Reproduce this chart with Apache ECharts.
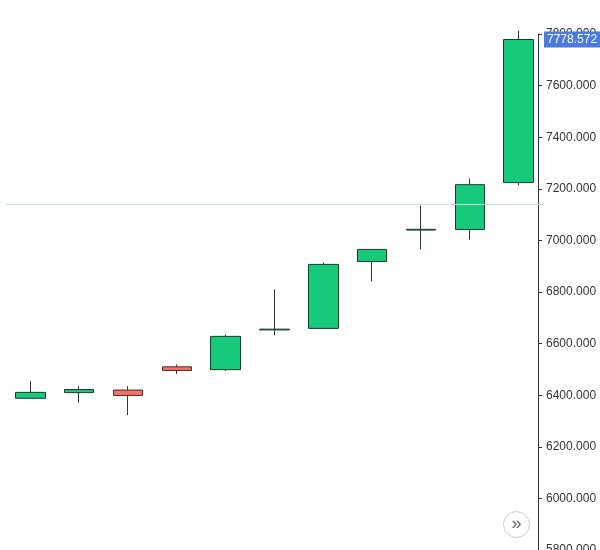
<!DOCTYPE html>
<html>
<head>
<meta charset="utf-8">
<script src="https://cdn.jsdelivr.net/npm/echarts@6/dist/echarts.min.js"></script>
<style>html,body{margin:0;padding:0;background:#fff}#main{width:600px;height:550px}</style>
</head>
<body>
<div id="main"></div>
<script>
// candles: [open, close, low, high]
var categories = ["1", "2", "3", "4", "5", "6", "7", "8", "9", "10", "11"];
var candles = [
	[6388, 6411, 6387, 6455],
	[6410, 6422, 6371, 6435],
	[6420, 6399, 6323, 6435],
	[6510, 6496, 6482, 6519],
	[6499, 6628, 6494, 6635],
	[6653, 6656, 6632, 6810],
	[6659, 6907, 6659, 6914],
	[6918, 6965, 6841, 6965],
	[7040, 7043, 6965, 7135],
	[7042, 7216, 7003, 7240],
	[7224, 7778.572, 7213, 7813]
];
var lastPrice = 7778.572;
var crossValue = 7139;

var chart = echarts.init(document.getElementById("main"));
chart.setOption({
	animation: false,
	grid: { left: 6, right: 57, top: 34, bottom: 0, outerBoundsMode: "none", containLabel: false },
	xAxis: {
		type: "category",
		data: categories,
		show: false
	},
	yAxis: {
		type: "value",
		position: "right",
		offset: -5,
		min: 5800,
		max: 7800,
		interval: 200,
		axisLine: { show: true, lineStyle: { color: "#333", width: 1 } },
		axisTick: { show: true, length: 4, lineStyle: { color: "#333" } },
		axisLabel: {
			color: "#333", fontSize: 12, fontFamily: "Liberation Sans",
			formatter: function(v) { return v.toFixed(3); }
		},
		splitLine: { show: false }
	},
	series: [{
		type: "candlestick",
		data: candles,
		barWidth: 30,
		clip: false,
		itemStyle: {
			color: "#16c97b",
			color0: "#f2716b",
			borderColor: "#1d3a2c",
			borderColor0: "#5a2a28",
			borderWidth: 1
		},
		markLine: {
			symbol: "none",
			silent: true,
			data: [
				{ yAxis: crossValue, lineStyle: { color: "#c9dbe4", type: "solid", width: 1 }, label: { show: false } },
				{
					yAxis: lastPrice,
					lineStyle: { color: "rgba(0,0,0,0)", width: 0 },
					label: {
						show: true, position: "end", distance: 1,
						formatter: lastPrice.toFixed(3),
						color: "#fff", backgroundColor: "#4a7be0",
						padding: [2, 3], fontSize: 12, fontFamily: "Liberation Sans"
					}
				}
			]
		}
	}],
	graphic: [{
		type: "group", left: 503, top: 511,
		children: [
			{ type: "circle", shape: { cx: 14, cy: 14, r: 13 }, style: { fill: "#fff", stroke: "#ccc", lineWidth: 1 } },
			{ type: "text", style: { x: 14, y: 14, text: "»", fill: "#666", fontSize: 18, align: "center", verticalAlign: "middle" } }
		]
	}]
});
</script>
</body>
</html>
